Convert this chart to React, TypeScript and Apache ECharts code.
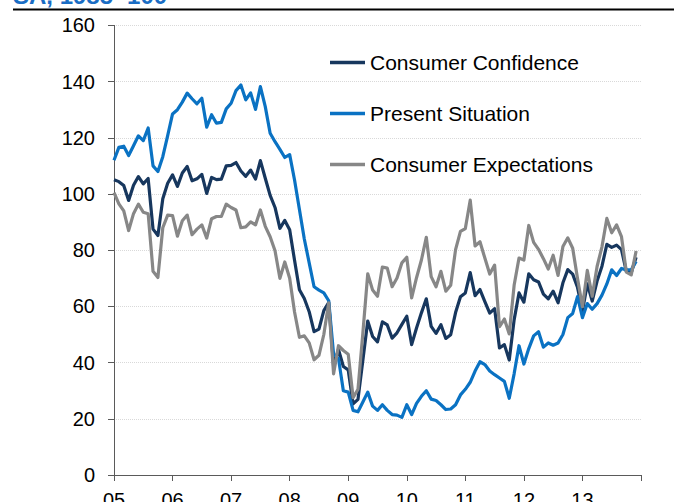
import React, { useEffect, useRef } from "react";
import * as echarts from "echarts";

const seriesNames = ["Consumer Confidence", "Present Situation", "Consumer Expectations"];
const yearLabels = ["05", "06", "07", "08", "09", "10", "11", "12", "13"];

// Monthly values, Jan 2005 – Dec 2013
const consumerConfidence = [
  105.1, 104.4, 103.0, 97.7, 103.1, 106.2, 103.6, 105.5, 87.5, 85.2, 98.3, 103.8,
  106.8, 102.7, 107.5, 109.8, 104.7, 105.4, 107.0, 100.2, 105.9, 105.1, 105.3, 110.0,
  110.2, 111.2, 108.2, 106.3, 108.5, 105.3, 111.9, 105.6, 99.5, 95.2, 87.8, 90.6,
  87.3, 76.4, 65.9, 62.8, 58.1, 51.0, 51.9, 58.5, 61.4, 38.8, 44.7, 38.6,
  37.4, 25.3, 26.9, 40.8, 54.8, 49.3, 47.4, 54.5, 53.4, 48.7, 50.6, 53.6,
  56.5, 46.4, 52.3, 57.7, 62.7, 52.9, 50.4, 53.5, 48.6, 49.9, 57.8, 63.4,
  64.8, 72.0, 63.8, 66.0, 61.7, 57.6, 59.2, 45.2, 46.4, 40.9, 55.2, 64.8,
  61.5, 71.6, 69.5, 68.7, 64.4, 62.7, 65.4, 61.3, 68.4, 73.1, 71.5, 66.7,
  58.4, 68.0, 61.9, 69.0, 74.3, 82.1, 81.0, 81.8, 80.2, 72.4, 72.0, 77.5,
];

const presentSituation = [
  112.0, 116.6, 117.0, 113.7, 117.2, 120.7, 119.0, 123.5, 110.0, 108.0, 113.3, 120.8,
  128.5, 130.0, 132.7, 135.9, 133.9, 132.1, 134.1, 123.8, 128.2, 125.2, 125.5, 130.3,
  132.3, 136.8, 138.8, 133.5, 136.0, 130.1, 138.2, 131.1, 121.6, 118.6, 115.9, 113.0,
  114.0, 105.0, 94.5, 84.0, 75.5, 67.0, 65.8, 64.8, 62.0, 43.0, 41.5, 30.0,
  29.5, 23.0, 22.5, 26.0, 29.5, 24.5, 23.0, 25.0, 23.0, 21.5, 21.3, 20.5,
  25.0, 21.5, 25.5, 28.0, 30.0, 27.0, 26.5, 25.0, 23.3, 23.5, 25.0, 28.5,
  30.5, 33.0, 37.0, 40.3, 39.3, 37.0, 35.7, 34.5, 33.3, 27.3, 36.0, 46.0,
  39.5, 45.0, 49.5, 51.0, 45.5, 47.0, 46.2, 47.0, 50.0, 56.0, 57.5, 63.5,
  56.0, 61.0, 59.0, 61.0, 64.0, 68.0, 73.0, 71.0, 73.5, 73.0, 73.0, 76.0,
];

const consumerExpectations = [
  100.5, 96.5, 94.0, 87.0, 93.0, 96.4, 93.5, 93.0, 72.5, 70.3, 88.0, 92.5,
  92.3, 85.0, 90.5, 92.5, 85.5, 87.5, 89.0, 84.3, 91.2, 92.0, 92.0, 96.4,
  95.2, 94.3, 88.0, 88.3, 90.1, 89.0, 94.3, 88.5, 84.8, 79.8, 70.0, 75.8,
  70.0, 58.0, 49.0, 49.5, 47.0, 41.0, 42.6, 50.0, 61.3, 36.0, 46.0, 44.3,
  43.0, 27.5, 30.5, 50.5, 71.6, 65.8, 63.6, 74.0, 73.6, 67.0, 70.1, 75.5,
  77.5, 63.0, 70.2, 76.5, 84.6, 70.6, 67.0, 72.5, 65.4, 67.5, 80.2, 86.7,
  87.7, 97.8, 81.5, 83.0, 77.2, 71.5, 74.7, 52.8, 55.5, 50.2, 67.5, 77.2,
  76.5, 88.8, 82.8, 80.3, 77.0, 73.3, 78.2, 71.0, 81.3, 84.4, 80.7, 69.8,
  59.9, 72.8, 63.6, 74.2, 81.2, 91.3, 86.2, 89.0, 84.8, 72.2, 71.2, 79.7,
];

const colors = ["#17375e", "#0a72c3", "#878787"];
const FONT = "'Liberation Sans', Arial, sans-serif";

export default function App() {
  const ref = useRef<HTMLDivElement>(null);

  useEffect(() => {
    if (!ref.current) return;
    const chart = echarts.init(ref.current, undefined, { renderer: "svg" });
    const toPoints = (arr: number[]) => arr.map((v, i) => [i, v]);
    const all = [consumerConfidence, presentSituation, consumerExpectations];

    chart.setOption({
      animation: false,
      backgroundColor: "#ffffff",
      textStyle: { fontFamily: FONT },
      graphic: [
        {
          type: "text",
          left: 13,
          top: -17,
          style: {
            text: "SA, 1985=100",
            fill: "#1a6dc4",
            font: `bold 24px ${FONT}`,
          },
        },
        {
          type: "line",
          shape: { x1: 13, y1: 9.6, x2: 674, y2: 9.6 },
          style: { stroke: "#000000", lineWidth: 2 },
        },
      ],
      legend: {
        orient: "vertical",
        left: 325,
        top: 47,
        itemGap: 30,
        itemWidth: 35,
        itemHeight: 3.5,
        icon: "rect",
        data: seriesNames,
        textStyle: { fontSize: 21, lineHeight: 20, color: "#000", fontFamily: FONT },
      },
      grid: { left: 114, width: 527, top: 25.4, height: 456, containLabel: false },
      xAxis: {
        type: "value",
        min: 0,
        max: 108,
        interval: 12,
        axisLine: { show: true, onZero: true, lineStyle: { color: "#5a5a5a", width: 1 } },
        axisTick: { show: true, inside: false, length: 6, lineStyle: { color: "#5a5a5a" } },
        splitLine: { show: false },
        axisLabel: {
          margin: 15,
          fontSize: 20,
          color: "#000",
          fontFamily: FONT,
          formatter: (v: number) => {
            const k = Math.round(v / 12);
            return k < yearLabels.length ? yearLabels[k] : "";
          },
        },
      },
      yAxis: {
        type: "value",
        min: 0,
        max: 160,
        interval: 20,
        axisLine: { show: true, lineStyle: { color: "#5a5a5a", width: 1 } },
        axisTick: { show: true, inside: false, length: 6, lineStyle: { color: "#5a5a5a" } },
        splitLine: { show: true, lineStyle: { color: "#d9d9d9", type: "dotted", width: 1 } },
        axisLabel: { margin: 19, fontSize: 20, color: "#000", fontFamily: FONT },
      },
      series: seriesNames.map((name, k) => ({
        name,
        type: "line",
        data: toPoints(all[k]),
        symbol: "none",
        showSymbol: false,
        lineStyle: { color: colors[k], width: 3.2, join: "round" },
        itemStyle: { color: colors[k] },
      })),
    });

    return () => chart.dispose();
  }, []);

  return (
    <div
      ref={ref}
      style={{ position: "absolute", left: 0, top: 0, width: 674, height: 510 }}
    />
  );
}
